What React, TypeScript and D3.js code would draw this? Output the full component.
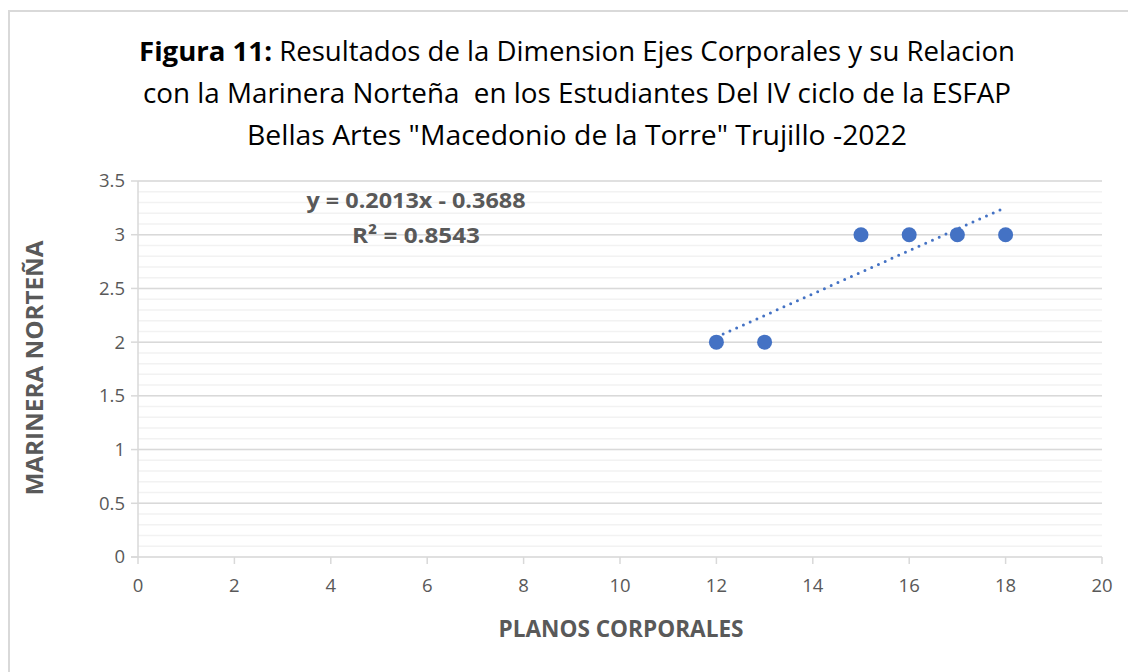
import React from "react";
import * as d3 from "d3";

// data
const xValues = [12, 13, 15, 16, 17, 18];
const yValues = [2, 2, 3, 3, 3, 3];
const trendSlope = 0.2013;
const trendIntercept = -0.3688;
const rSquared = 0.8543;
const xTicks = [0, 2, 4, 6, 8, 10, 12, 14, 16, 18, 20];
const yTicks = [0, 0.5, 1, 1.5, 2, 2.5, 3, 3.5];
const titleLines = [
    "Resultados de la Dimension Ejes Corporales y su Relacion",
    "con la Marinera Norteña  en los Estudiantes Del IV ciclo de la ESFAP",
    'Bellas Artes "Macedonio de la Torre" Trujillo -2022',
];

const App = (): JSX.Element => {
    const width = 1128;
    const height = 672;
    const margin = { top: 181, right: 26, bottom: 115, left: 138 };
    const blue = "#4472c4";
    const grey = "#595959";
    const font = "Open Sans, Liberation Sans, sans-serif";
    const narrow = "Liberation Sans Narrow, Open Sans, sans-serif";

    const x = d3.scaleLinear().domain([0, 20]).range([margin.left, width - margin.right]);
    const y = d3.scaleLinear().domain([0, 3.5]).range([height - margin.bottom, margin.top]);

    const minor = d3.range(0, 3.5001, 0.1);
    const trendX = [d3.min(xValues) as number, d3.max(xValues) as number];
    const line = d3
        .line<number>()
        .x((d) => x(d))
        .y((d) => y(trendSlope * d + trendIntercept));

    return (
        <svg
            width={width}
            height={height}
            style={{ position: "absolute", left: 0, top: 0, background: "#fff" }}
            fontFamily={font}
        >
            <rect x={9} y={11} width={width + 20} height={height + 20} fill="#fff" stroke="#d9d9d9" strokeWidth={2} />

            {/* title */}
            <text x={577} textAnchor="middle" fontSize={27} fill="#000" fontFamily={narrow} style={{ whiteSpace: "pre" }}>
                <tspan x={577} y={61} textLength={876} lengthAdjust="spacingAndGlyphs">
                    <tspan fontWeight="bold">Figura 11:</tspan> {titleLines[0]}
                </tspan>
                <tspan x={577} y={103} textLength={868} lengthAdjust="spacingAndGlyphs">
                    {titleLines[1]}
                </tspan>
                <tspan x={577} y={145} textLength={660} lengthAdjust="spacingAndGlyphs">
                    {titleLines[2]}
                </tspan>
            </text>

            {/* grid */}
            <g>
                {minor.map((v, i) => (
                    <line key={"m" + i} x1={x(0)} x2={x(20)} y1={y(v)} y2={y(v)} stroke="#f2f2f2" strokeWidth={1.5} />
                ))}
                {yTicks.slice(1).map((v) => (
                    <line key={"M" + v} x1={x(0)} x2={x(20)} y1={y(v)} y2={y(v)} stroke="#d9d9d9" strokeWidth={1.5} />
                ))}
            </g>

            {/* axes */}
            <g stroke="#d9d9d9" strokeWidth={1.5}>
                <line x1={x(0)} x2={x(0)} y1={y(0)} y2={y(3.5)} />
                <line x1={x(0) - 7} x2={x(20)} y1={y(0)} y2={y(0)} />
                {yTicks.map((v) => (
                    <line key={"yt" + v} x1={x(0) - 7} x2={x(0)} y1={y(v)} y2={y(v)} />
                ))}
                {xTicks.map((v) => (
                    <line key={"xt" + v} x1={x(v)} x2={x(v)} y1={y(0)} y2={y(0) + 7} />
                ))}
            </g>
            <g fontSize={18.5} fill={grey}>
                {yTicks.map((v) => (
                    <text key={"yl" + v} x={x(0) - 13} y={y(v)} dy="0.35em" textAnchor="end">
                        {String(v)}
                    </text>
                ))}
                {xTicks.map((v) => (
                    <text key={"xl" + v} x={x(v)} y={y(0) + 35} textAnchor="middle">
                        {v}
                    </text>
                ))}
            </g>

            {/* axis titles */}
            <text x={621} y={637} textAnchor="middle" fontSize={23} fontWeight="bold" fill={grey} textLength={245} lengthAdjust="spacingAndGlyphs">
                PLANOS CORPORALES
            </text>
            <text
                transform={`translate(43,${368}) rotate(-90)`}
                textAnchor="middle"
                fontSize={23}
                fontWeight="bold"
                fill={grey}
                textLength={255}
                lengthAdjust="spacingAndGlyphs"
            >
                MARINERA NORTEÑA
            </text>

            {/* points */}
            {xValues.map((v, i) => (
                <circle key={"p" + i} cx={x(v)} cy={y(yValues[i])} r={7.5} fill={blue} />
            ))}

            {/* trendline */}
            <path
                d={line(trendX) || ""}
                fill="none"
                stroke={blue}
                strokeWidth={3}
                strokeLinecap="round"
                strokeDasharray="0 7.4"
            />

            {/* equation */}
            <g fontSize={22} fontWeight="bold" fill={grey} textAnchor="middle">
                <text x={416} y={208} textLength={219} lengthAdjust="spacingAndGlyphs">
                    y = {trendSlope}x - {Math.abs(trendIntercept)}
                </text>
                <text x={416} y={243} textLength={128} lengthAdjust="spacingAndGlyphs">
                    R² = {rSquared}
                </text>
            </g>
        </svg>
    );
};

export default App;
